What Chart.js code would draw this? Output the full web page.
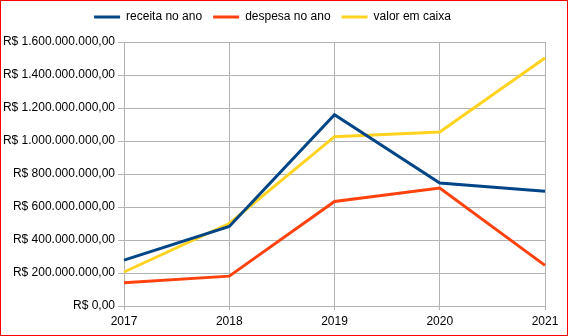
<!DOCTYPE html>
<html>
<head>
<meta charset="utf-8">
<script src="https://cdn.jsdelivr.net/npm/chart.js@4.4.0/dist/chart.umd.min.js"></script>
<style>
  html, body { margin: 0; padding: 0; background: #fff; }
  #wrap { position: relative; width: 568px; height: 336px; }
  #wrap::after {
    content: ''; position: absolute; left: 0; top: 0; right: 0; bottom: 0;
    border: 1px solid #ff0000; pointer-events: none;
  }
</style>
</head>
<body>
<div id="wrap"><canvas id="grafico" width="568" height="336"></canvas></div>
<script>
const anos = ['2017', '2018', '2019', '2020', '2021'];
const receita = [278e6, 482e6, 1159e6, 745e6, 695e6];
const despesa = [141e6, 181e6, 633e6, 715e6, 246e6];
const caixa = [206e6, 500e6, 1026e6, 1054e6, 1503e6];

const cinza = '#b3b3b3';

function formatarReal(v) {
    const partes = Math.round(v).toString().replace(/\B(?=(\d{3})+(?!\d))/g, '.');
    return 'R$ ' + partes + ',00';
}

// legenda com altura fixa, para o topo do grafico ficar no lugar certo
const alturaLegenda = {
    id: 'alturaLegenda',
    beforeLayout(chart) {
        const legend = chart.legend;
        if (legend && !legend._fixo) {
            const fit = legend.fit;
            legend.fit = function () {
                fit.call(this);
                this.height = 42;
            };
            legend._fixo = true;
        }
    }
};

function serie(label, data, cor) {
    // pointBorderWidth so serve para a espessura do traco na legenda
    return { label, data, borderColor: cor, backgroundColor: cor, pointBorderWidth: 3 };
}

const ctx = document.getElementById('grafico').getContext('2d');

new Chart(ctx, {
    type: 'line',
    data: {
        labels: anos,
        datasets: [
            serie('receita no ano', receita, '#004586'),
            serie('despesa no ano', despesa, '#ff420e'),
            serie('valor em caixa', caixa, '#ffd320')
        ]
    },
    options: {
        responsive: false,
        animation: false,
        devicePixelRatio: 1,
        layout: { padding: { left: 0, right: 23, top: 0, bottom: 0 } },
        elements: {
            line: { borderWidth: 3, tension: 0, fill: false },
            point: { radius: 0 }
        },
        scales: {
            x: {
                grid: { color: cinza, tickLength: 4 },
                border: { color: cinza },
                ticks: {
                    color: '#000',
                    padding: 4,
                    maxRotation: 0,
                    font: { family: 'Liberation Sans', size: 12 }
                },
                afterFit(scale) { scale.height = 30; }
            },
            y: {
                min: 0,
                max: 1600000000,
                grid: { color: cinza, tickLength: 6 },
                border: { color: cinza },
                ticks: {
                    stepSize: 200000000,
                    color: '#000',
                    padding: 3,
                    font: { family: 'Liberation Sans', size: 12 },
                    callback: (v) => formatarReal(v)
                },
                afterFit(scale) { scale.width = 124; }
            }
        },
        plugins: {
            tooltip: { enabled: false },
            legend: {
                position: 'top',
                labels: {
                    usePointStyle: true,
                    pointStyle: 'line',
                    pointStyleWidth: 26,
                    padding: 11,
                    color: '#000',
                    font: { family: 'Liberation Sans', size: 12 }
                }
            }
        }
    },
    plugins: [alturaLegenda]
});
</script>
</body>
</html>
